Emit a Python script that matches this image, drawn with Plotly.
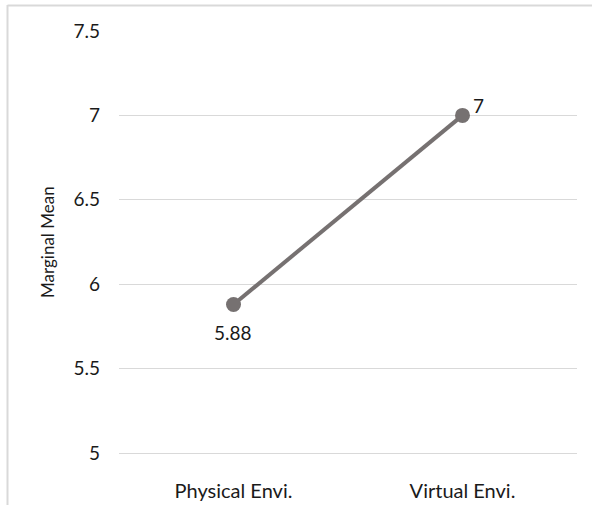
import plotly.graph_objects as go

categories = ["Physical Envi.", "Virtual Envi."]
means = [5.88, 7.0]
labels = ["5.88", "7"]
y_ticks = [5, 5.5, 6, 6.5, 7, 7.5]
y_tick_text = ["5", "5.5", "6", "6.5", "7", "7.5"]

W, H = 592, 505
L, R, T, B = 119, 15, 31, 52
pw, ph = W - L - R, H - T - B

def px_x(px):
    return (px - L) / pw

def px_y(py):
    return (H - B - py) / ph

TXT = "#1a1a1a"
FONT = "Lato"

fig = go.Figure()
fig.add_trace(go.Scatter(
    x=categories, y=means, mode="lines+markers",
    line=dict(color="#767171", width=4),
    marker=dict(color="#767171", size=15),
    hoverinfo="skip", showlegend=False, cliponaxis=False,
))

annotations = [
    dict(x=categories[0], y=means[0], xref="x", yref="y", text=labels[0],
         showarrow=False, xshift=-1, yshift=-28,
         font=dict(family=FONT, size=19, color=TXT)),
    dict(x=categories[1], y=means[1], xref="x", yref="y", text=labels[1],
         showarrow=False, xshift=16, yshift=10,
         font=dict(family=FONT, size=19, color=TXT)),
    dict(x=px_x(47), y=px_y(242), xref="paper", yref="paper", text="Marginal Mean",
         textangle=-90, showarrow=False, xanchor="center", yanchor="middle",
         font=dict(family=FONT, size=17, color=TXT)),
]

fig.update_layout(
    width=W, height=H,
    margin=dict(l=L, r=R, t=T, b=B, autoexpand=False),
    paper_bgcolor="white", plot_bgcolor="white",
    font=dict(family=FONT, size=19, color=TXT),
    xaxis=dict(
        type="category", range=[-0.5, 1.5], showgrid=False,
        showline=True, linecolor="#d9d9d9", linewidth=1,
        zeroline=False, ticks="", automargin=False,
        tickfont=dict(family=FONT, size=20, color=TXT),
        ticklabelstandoff=20,
    ),
    yaxis=dict(
        range=[5, 7.5], tickvals=y_ticks, ticktext=y_tick_text,
        showgrid=True, gridcolor="#d9d9d9", gridwidth=1,
        zeroline=False, showline=False, ticks="", automargin=False,
        tickfont=dict(family=FONT, size=19, color=TXT),
        ticklabelstandoff=18,
    ),
    annotations=annotations,
    shapes=[
        dict(type="line", xref="paper", yref="paper",
             x0=px_x(7.5), x1=px_x(7.5), y0=px_y(5), y1=px_y(520),
             line=dict(color="#d9d9d9", width=2)),
        dict(type="line", xref="paper", yref="paper",
             x0=px_x(7.5), x1=px_x(600), y0=px_y(5.5), y1=px_y(5.5),
             line=dict(color="#d9d9d9", width=2)),
    ],
)

fig.write_html(
    "out.html",
    config={"displayModeBar": False},
    post_script="document.body.style.margin='0';document.body.style.overflow='hidden';",
)
